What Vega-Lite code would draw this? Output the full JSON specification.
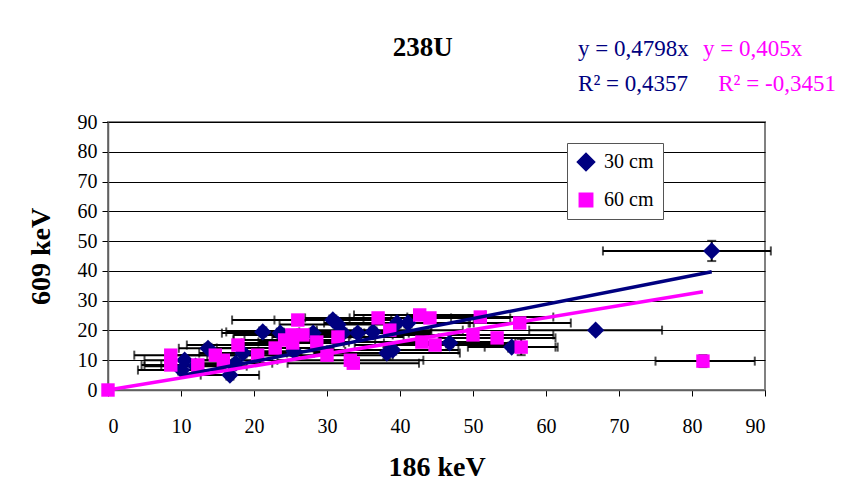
{
  "$schema": "https://vega.github.io/schema/vega-lite/v6.json",
  "width": 657,
  "height": 268,
  "autosize": {"type": "none"},
  "padding": {"left": 108, "top": 122, "right": 83, "bottom": 106},
  "background": "white",
  "config": {
    "font": "Liberation Serif",
    "view": {"stroke": "#808080", "strokeWidth": 2},
    "axis": {
      "labelFont": "Liberation Serif", "labelFontSize": 20, "labelColor": "black", "labelOverlap": false,
      "titleFont": "Liberation Serif", "titleFontSize": 28, "titleFontWeight": "bold", "titleColor": "black",
      "tickColor": "black", "tickSize": 6, "domainColor": "#606060", "domainWidth": 1.5
    },
    "axisX": {"grid": false, "labelPadding": 20, "titlePadding": 17},
    "axisY": {"grid": true, "gridColor": "black", "gridOpacity": 1, "labelPadding": 5, "titlePadding": 22},
    "legend": {
      "orient": "none", "legendX": 459, "legendY": 21, "strokeColor": "#555", "fillColor": "white",
      "padding": 9, "labelFont": "Liberation Serif", "labelFontSize": 20, "labelColor": "black",
      "rowPadding": 16, "labelOffset": 8
    }
  },
  "datasets": {
    "pts": [
      {"s": "30 cm", "x": 10.1, "y": 6.7, "xlo": 4.1, "xhi": 16.1, "ylo": 5.2, "yhi": 8.2},
      {"s": "30 cm", "x": 10.5, "y": 10, "xlo": 5.0, "xhi": 16.0, "ylo": 8.5, "yhi": 11.5},
      {"s": "30 cm", "x": 12, "y": 8, "xlo": 5, "xhi": 19, "ylo": 6.5, "yhi": 9.5},
      {"s": "30 cm", "x": 13.7, "y": 14, "xlo": 9.7, "xhi": 17.7, "ylo": 12.5, "yhi": 15.5},
      {"s": "30 cm", "x": 16.7, "y": 5, "xlo": 12.7, "xhi": 20.7, "ylo": 3.5, "yhi": 6.5},
      {"s": "30 cm", "x": 17.5, "y": 9, "xlo": 12.5, "xhi": 22.5, "ylo": 7.5, "yhi": 10.5},
      {"s": "30 cm", "x": 18.5, "y": 12.4, "xlo": 12.5, "xhi": 24.5, "ylo": 10.9, "yhi": 13.9},
      {"s": "30 cm", "x": 21.2, "y": 19.5, "xlo": 16.2, "xhi": 26.2, "ylo": 18, "yhi": 21},
      {"s": "30 cm", "x": 23.6, "y": 19.1, "xlo": 15.6, "xhi": 31.6, "ylo": 17.6, "yhi": 20.6},
      {"s": "30 cm", "x": 25.5, "y": 13, "xlo": 18.5, "xhi": 32.5, "ylo": 11.5, "yhi": 14.5},
      {"s": "30 cm", "x": 28.1, "y": 19.1, "xlo": 21.1, "xhi": 35.1, "ylo": 17.6, "yhi": 20.6},
      {"s": "30 cm", "x": 30.8, "y": 23.5, "xlo": 22.8, "xhi": 38.8, "ylo": 22, "yhi": 25},
      {"s": "30 cm", "x": 31.5, "y": 22, "xlo": 23.5, "xhi": 39.5, "ylo": 20.5, "yhi": 23.5},
      {"s": "30 cm", "x": 32.2, "y": 19.1, "xlo": 23.2, "xhi": 41.2, "ylo": 17.6, "yhi": 20.6},
      {"s": "30 cm", "x": 34.2, "y": 19.1, "xlo": 24.2, "xhi": 44.2, "ylo": 17.6, "yhi": 20.6},
      {"s": "30 cm", "x": 36.3, "y": 19.5, "xlo": 28.3, "xhi": 44.3, "ylo": 18, "yhi": 21},
      {"s": "30 cm", "x": 38.2, "y": 12.4, "xlo": 28.2, "xhi": 48.2, "ylo": 10.4, "yhi": 14.4},
      {"s": "30 cm", "x": 39, "y": 13.4, "xlo": 30, "xhi": 48, "ylo": 11.9, "yhi": 14.9},
      {"s": "30 cm", "x": 39.6, "y": 22.5, "xlo": 29.6, "xhi": 49.6, "ylo": 21, "yhi": 24},
      {"s": "30 cm", "x": 41.1, "y": 22.5, "xlo": 32.1, "xhi": 50.1, "ylo": 21, "yhi": 24},
      {"s": "30 cm", "x": 46.8, "y": 15.8, "xlo": 37.8, "xhi": 55.8, "ylo": 14.3, "yhi": 17.3},
      {"s": "30 cm", "x": 55.3, "y": 14.4, "xlo": 49.3, "xhi": 61.3, "ylo": 12.9, "yhi": 15.9},
      {"s": "30 cm", "x": 66.8, "y": 20.1, "xlo": 57.7, "xhi": 75.9, "ylo": 19, "yhi": 21.2},
      {"s": "30 cm", "x": 82.7, "y": 46.7, "xlo": 67.8, "xhi": 90.8, "ylo": 43.3, "yhi": 50.1},
      {"s": "60 cm", "x": 0, "y": 0, "xlo": 0, "xhi": 0, "ylo": 0, "yhi": 0},
      {"s": "60 cm", "x": 8.6, "y": 11.7, "xlo": 3.6, "xhi": 13.6, "ylo": 10.2, "yhi": 13.2},
      {"s": "60 cm", "x": 8.6, "y": 8.4, "xlo": 4.6, "xhi": 12.6, "ylo": 6.9, "yhi": 9.9},
      {"s": "60 cm", "x": 12.3, "y": 8.4, "xlo": 7.3, "xhi": 17.3, "ylo": 6.9, "yhi": 9.9},
      {"s": "60 cm", "x": 14.7, "y": 11.7, "xlo": 8.7, "xhi": 20.7, "ylo": 10.2, "yhi": 13.2},
      {"s": "60 cm", "x": 15.8, "y": 10, "xlo": 10.8, "xhi": 20.8, "ylo": 8.5, "yhi": 11.5},
      {"s": "60 cm", "x": 17.8, "y": 15.1, "xlo": 10.8, "xhi": 24.8, "ylo": 13.6, "yhi": 16.6},
      {"s": "60 cm", "x": 20.5, "y": 11.7, "xlo": 14.5, "xhi": 26.5, "ylo": 10.2, "yhi": 13.2},
      {"s": "60 cm", "x": 22.9, "y": 14.1, "xlo": 14.9, "xhi": 30.9, "ylo": 12.6, "yhi": 15.6},
      {"s": "60 cm", "x": 24.2, "y": 16.8, "xlo": 17.2, "xhi": 31.2, "ylo": 15.3, "yhi": 18.3},
      {"s": "60 cm", "x": 25.2, "y": 18.5, "xlo": 17.2, "xhi": 33.2, "ylo": 17, "yhi": 20},
      {"s": "60 cm", "x": 25.3, "y": 15.8, "xlo": 18.3, "xhi": 32.3, "ylo": 14.3, "yhi": 17.3},
      {"s": "60 cm", "x": 26, "y": 23.5, "xlo": 17, "xhi": 35, "ylo": 22, "yhi": 25},
      {"s": "60 cm", "x": 26.7, "y": 18.5, "xlo": 18.7, "xhi": 34.7, "ylo": 17, "yhi": 20},
      {"s": "60 cm", "x": 28.6, "y": 16.1, "xlo": 20.6, "xhi": 36.6, "ylo": 14.6, "yhi": 17.6},
      {"s": "60 cm", "x": 30, "y": 11.7, "xlo": 21, "xhi": 39, "ylo": 10.2, "yhi": 13.2},
      {"s": "60 cm", "x": 31.5, "y": 17.8, "xlo": 22.5, "xhi": 40.5, "ylo": 16.3, "yhi": 19.3},
      {"s": "60 cm", "x": 33.2, "y": 10, "xlo": 23.2, "xhi": 43.2, "ylo": 8.5, "yhi": 11.5},
      {"s": "60 cm", "x": 33.6, "y": 9, "xlo": 24.6, "xhi": 42.6, "ylo": 7.5, "yhi": 10.5},
      {"s": "60 cm", "x": 37, "y": 24.2, "xlo": 27, "xhi": 47, "ylo": 22.7, "yhi": 25.7},
      {"s": "60 cm", "x": 38.6, "y": 20.1, "xlo": 28.6, "xhi": 48.6, "ylo": 18.6, "yhi": 21.6},
      {"s": "60 cm", "x": 42.7, "y": 25.2, "xlo": 33.7, "xhi": 51.7, "ylo": 23.7, "yhi": 26.7},
      {"s": "60 cm", "x": 43, "y": 16.1, "xlo": 33, "xhi": 53, "ylo": 14.6, "yhi": 17.6},
      {"s": "60 cm", "x": 44.1, "y": 24.2, "xlo": 33.1, "xhi": 55.1, "ylo": 22.7, "yhi": 25.7},
      {"s": "60 cm", "x": 44.8, "y": 15.1, "xlo": 33.8, "xhi": 55.8, "ylo": 13.6, "yhi": 16.6},
      {"s": "60 cm", "x": 50, "y": 18.5, "xlo": 39, "xhi": 61, "ylo": 17, "yhi": 20},
      {"s": "60 cm", "x": 51, "y": 24.5, "xlo": 41, "xhi": 61, "ylo": 23, "yhi": 26},
      {"s": "60 cm", "x": 53.3, "y": 17.5, "xlo": 45.3, "xhi": 61.3, "ylo": 16, "yhi": 19},
      {"s": "60 cm", "x": 56.4, "y": 22.5, "xlo": 49.4, "xhi": 63.4, "ylo": 21, "yhi": 24},
      {"s": "60 cm", "x": 56.6, "y": 14.4, "xlo": 51.6, "xhi": 61.6, "ylo": 11.7, "yhi": 17.1},
      {"s": "60 cm", "x": 81.5, "y": 9.7, "xlo": 75, "xhi": 88.6, "ylo": 7.7, "yhi": 11.7}
    ],
    "lines": [
      {"s": "30 cm", "x": 10.1, "y": 4.85},
      {"s": "30 cm", "x": 82.7, "y": 39.68},
      {"s": "60 cm", "x": 0, "y": 0},
      {"s": "60 cm", "x": 81.5, "y": 33.0}
    ],
    "eq": [
      {"s": "30 cm", "label": "y = 0,4798x", "x": 64.4, "y": 112.2},
      {"s": "30 cm", "label": "R² = 0,4357", "x": 64.4, "y": 100.4},
      {"s": "60 cm", "label": "y = 0,405x", "x": 81.5, "y": 112.2},
      {"s": "60 cm", "label": "R² = -0,3451", "x": 83.6, "y": 100.4}
    ],
    "heading": [
      {"label": "238U", "x": 39.0, "y": 112.2}
    ]
  },
  "layer": [
    {
      "data": {"name": "pts"},
      "mark": {"type": "rule", "color": "black", "strokeWidth": 2},
      "encoding": {
        "x": {"field": "xlo", "type": "quantitative", "title": "186 keV", "scale": {"domain": [0, 90], "nice": false}, "axis": {"values": [0,10,20,30,40,50,60,70,80,90]}},
        "x2": {"field": "xhi"},
        "y": {"field": "y", "type": "quantitative", "title": "609 keV", "scale": {"domain": [0, 90], "nice": false}, "axis": {"values": [0,10,20,30,40,50,60,70,80,90]}}
      }
    },
    {
      "data": {"name": "pts"},
      "mark": {"type": "tick", "orient": "vertical", "color": "black", "size": 9, "thickness": 2},
      "encoding": {
        "x": {"field": "xlo", "type": "quantitative", "title": "186 keV", "scale": {"domain": [0, 90], "nice": false}, "axis": {"values": [0,10,20,30,40,50,60,70,80,90]}},
        "y": {"field": "y", "type": "quantitative", "title": "609 keV", "scale": {"domain": [0, 90], "nice": false}, "axis": {"values": [0,10,20,30,40,50,60,70,80,90]}}
      }
    },
    {
      "data": {"name": "pts"},
      "mark": {"type": "tick", "orient": "vertical", "color": "black", "size": 9, "thickness": 2},
      "encoding": {
        "x": {"field": "xhi", "type": "quantitative", "title": "186 keV", "scale": {"domain": [0, 90], "nice": false}, "axis": {"values": [0,10,20,30,40,50,60,70,80,90]}},
        "y": {"field": "y", "type": "quantitative", "title": "609 keV", "scale": {"domain": [0, 90], "nice": false}, "axis": {"values": [0,10,20,30,40,50,60,70,80,90]}}
      }
    },
    {
      "data": {"name": "pts"},
      "mark": {"type": "rule", "color": "black", "strokeWidth": 2},
      "encoding": {
        "x": {"field": "x", "type": "quantitative", "title": "186 keV", "scale": {"domain": [0, 90], "nice": false}, "axis": {"values": [0,10,20,30,40,50,60,70,80,90]}},
        "y": {"field": "ylo", "type": "quantitative", "title": "609 keV", "scale": {"domain": [0, 90], "nice": false}, "axis": {"values": [0,10,20,30,40,50,60,70,80,90]}},
        "y2": {"field": "yhi"}
      }
    },
    {
      "data": {"name": "pts"},
      "mark": {"type": "tick", "orient": "horizontal", "color": "black", "size": 9, "thickness": 2},
      "encoding": {
        "x": {"field": "x", "type": "quantitative", "title": "186 keV", "scale": {"domain": [0, 90], "nice": false}, "axis": {"values": [0,10,20,30,40,50,60,70,80,90]}},
        "y": {"field": "ylo", "type": "quantitative", "title": "609 keV", "scale": {"domain": [0, 90], "nice": false}, "axis": {"values": [0,10,20,30,40,50,60,70,80,90]}}
      }
    },
    {
      "data": {"name": "pts"},
      "mark": {"type": "tick", "orient": "horizontal", "color": "black", "size": 9, "thickness": 2},
      "encoding": {
        "x": {"field": "x", "type": "quantitative", "title": "186 keV", "scale": {"domain": [0, 90], "nice": false}, "axis": {"values": [0,10,20,30,40,50,60,70,80,90]}},
        "y": {"field": "yhi", "type": "quantitative", "title": "609 keV", "scale": {"domain": [0, 90], "nice": false}, "axis": {"values": [0,10,20,30,40,50,60,70,80,90]}}
      }
    },
    {
      "data": {"name": "pts"},
      "mark": {"type": "point", "filled": true, "opacity": 1},
      "encoding": {
        "x": {"field": "x", "type": "quantitative", "title": "186 keV", "scale": {"domain": [0, 90], "nice": false}, "axis": {"values": [0,10,20,30,40,50,60,70,80,90]}},
        "y": {"field": "y", "type": "quantitative", "title": "609 keV", "scale": {"domain": [0, 90], "nice": false}, "axis": {"values": [0,10,20,30,40,50,60,70,80,90]}},
        "color": {"field": "s", "type": "nominal", "title": null, "scale": {"domain": ["30 cm", "60 cm"], "range": ["#000080", "#FF00FF"]}},
        "shape": {"field": "s", "type": "nominal", "title": null, "scale": {"domain": ["30 cm", "60 cm"], "range": ["diamond", "square"]}},
        "size": {"field": "s", "type": "nominal", "title": null, "scale": {"domain": ["30 cm", "60 cm"], "range": [300, 180]}}
      }
    },
    {
      "data": {"name": "lines"},
      "mark": {"type": "line", "strokeWidth": 3.5},
      "encoding": {
        "x": {"field": "x", "type": "quantitative", "title": "186 keV", "scale": {"domain": [0, 90], "nice": false}, "axis": {"values": [0,10,20,30,40,50,60,70,80,90]}},
        "y": {"field": "y", "type": "quantitative", "title": "609 keV", "scale": {"domain": [0, 90], "nice": false}, "axis": {"values": [0,10,20,30,40,50,60,70,80,90]}},
        "color": {"field": "s", "type": "nominal", "title": null, "scale": {"domain": ["30 cm", "60 cm"], "range": ["#000080", "#FF00FF"]}}
      }
    },
    {
      "data": {"name": "eq"},
      "mark": {"type": "text", "align": "left", "baseline": "alphabetic", "font": "Liberation Serif", "fontSize": 23},
      "encoding": {
        "x": {"field": "x", "type": "quantitative", "title": "186 keV", "scale": {"domain": [0, 90], "nice": false}, "axis": {"values": [0,10,20,30,40,50,60,70,80,90]}},
        "y": {"field": "y", "type": "quantitative", "title": "609 keV", "scale": {"domain": [0, 90], "nice": false}, "axis": {"values": [0,10,20,30,40,50,60,70,80,90]}},
        "text": {"field": "label"},
        "color": {"field": "s", "type": "nominal", "title": null, "scale": {"domain": ["30 cm", "60 cm"], "range": ["#000080", "#FF00FF"]}}
      }
    },
    {
      "data": {"name": "heading"},
      "mark": {"type": "text", "align": "left", "baseline": "alphabetic", "font": "Liberation Serif", "fontSize": 27, "fontWeight": "bold", "color": "black"},
      "encoding": {
        "x": {"field": "x", "type": "quantitative", "title": "186 keV", "scale": {"domain": [0, 90], "nice": false}, "axis": {"values": [0,10,20,30,40,50,60,70,80,90]}},
        "y": {"field": "y", "type": "quantitative", "title": "609 keV", "scale": {"domain": [0, 90], "nice": false}, "axis": {"values": [0,10,20,30,40,50,60,70,80,90]}},
        "text": {"field": "label"}
      }
    }
  ]
}
